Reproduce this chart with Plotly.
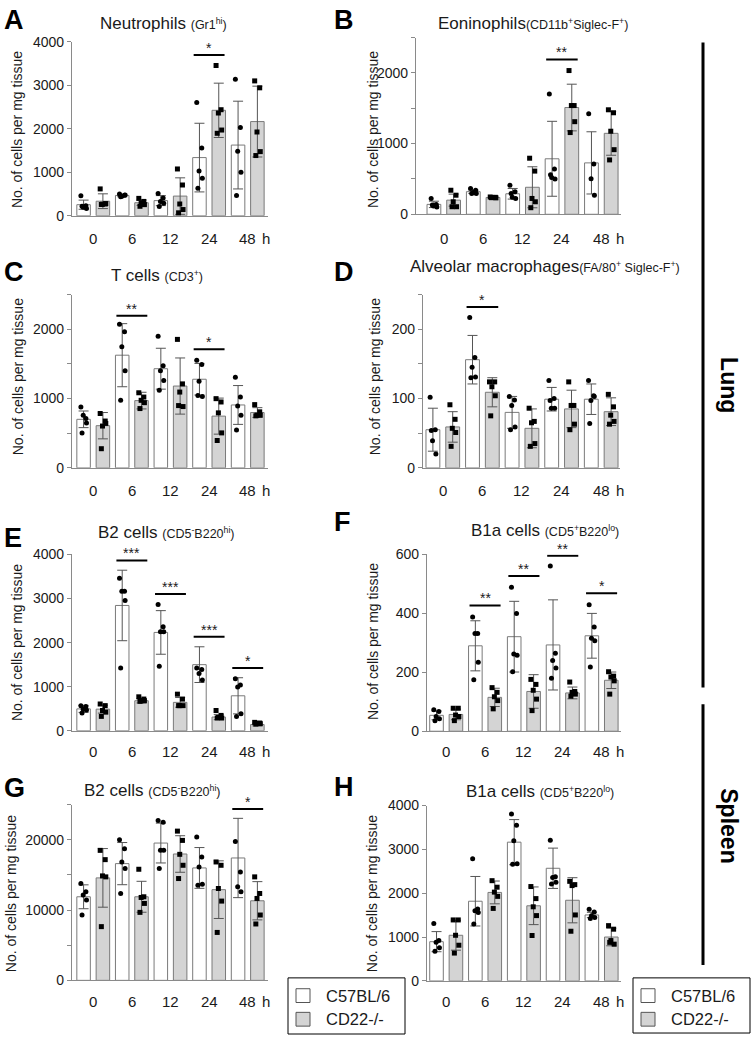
import plotly.graph_objects as go

W, H = 752, 1043
FONT = "Liberation Sans, Arial, sans-serif"
TIMES = ["0", "6", "12", "24", "48"]
UNIT = "h"
YTITLE = "No. of cells per mg tissue"
LEG_NAMES = ["C57BL/6", "CD22-/-"]

# ---------------- data ----------------
A_wt_mean = [255, 468, 349, 1339, 1627]
A_wt_sd = [105, 30, 115, 790, 1010]
A_ko_mean = [335, 300, 453, 2427, 2168]
A_ko_sd = [170, 60, 420, 625, 815]
A_wt_pts = [[460, 233, 196, 166, 218], [500, 470, 450, 480, 440], [512, 407, 331, 286, 211],
            [2606, 1559, 1032, 866, 633], [3141, 2034, 1484, 1002, 467]]
A_ko_pts = [[618, 271, 265, 280, 260], [400, 330, 294, 256, 218], [1077, 708, 271, 143, 68],
            [3458, 2441, 2365, 1973, 1898], [3104, 2945, 1928, 1476, 1386]]

B_wt_mean = [140, 320, 290, 785, 727]
B_wt_sd = [45, 25, 75, 530, 440]
B_ko_mean = [200, 238, 382, 1510, 1145]
B_ko_sd = [85, 15, 290, 330, 310]
B_wt_pts = [[224, 140, 117, 103, 130], [364, 340, 308, 294, 294], [410, 317, 242, 224, 294],
            [1700, 640, 520, 500, 560], [1422, 713, 503, 270]]
B_ko_pts = [[340, 270, 177, 107, 107], [245, 240, 238, 232, 235], [793, 611, 224, 177, 93],
            [2033, 1538, 1538, 1310, 1156], [1478, 1436, 1175, 914, 769]]

C_wt_mean = [700, 1625, 1430, 1278, 907]
C_wt_sd = [120, 455, 295, 228, 280]
C_ko_mean = [608, 970, 1180, 746, 798]
C_ko_sd = [190, 120, 405, 260, 70]
C_wt_pts = [[879, 713, 760, 646, 504], [2071, 1962, 1748, 1401, 974], [1900, 1473, 1401, 1259, 1121],
            [1553, 1492, 1249, 1030, 1045], [1306, 1021, 893, 760, 546]]
C_ko_pts = [[784, 675, 603, 641, 276], [1083, 1021, 974, 940, 855], [1853, 1211, 1093, 884, 898],
            [998, 950, 793, 504, 394], [912, 808, 760, 760, 750]]

D_wt_mean = [55, 156, 80, 99, 99]
D_wt_sd = [31, 35, 23, 17, 22]
D_ko_mean = [59, 109, 57, 85, 81]
D_ko_sd = [22, 21, 28, 27, 20]
D_wt_pts = [[102, 55, 39, 20, 54], [217, 159, 145, 131, 130], [103, 98, 90, 59, 55],
            [126, 100, 86, 86, 97], [126, 104, 97, 103, 64]]
D_ko_pts = [[91, 70, 57, 51, 31], [124, 124, 117, 104, 75], [86, 67, 65, 35, 31],
            [124, 90, 90, 63, 55], [106, 88, 76, 67, 63]]

E_wt_mean = [496, 2843, 2231, 1500, 793]
E_wt_sd = [80, 800, 495, 405, 410]
E_ko_mean = [490, 681, 644, 311, 141]
E_ko_sd = [90, 50, 110, 60, 30]
E_wt_pts = [[570, 550, 490, 470, 400], [3463, 3164, 3164, 2955, 1425], [2866, 2358, 2246, 2246, 1463],
            [1425, 1388, 1299, 1149], [1180, 1040, 990, 385, 326]]
E_ko_pts = [[607, 570, 459, 422, 326], [770, 719, 681, 681, 667], [830, 719, 570, 570, 570],
            [459, 348, 300, 290, 290], [190, 175, 165, 160, 150]]

F_wt_mean = [54, 290, 321, 293, 324]
F_wt_sd = [15, 85, 120, 153, 76]
F_ko_mean = [57, 115, 135, 130, 173]
F_ko_sd = [18, 31, 57, 20, 28]
F_wt_pts = [[73, 67, 50, 42, 36], [388, 332, 332, 234, 175], [489, 400, 262, 258, 202],
            [561, 265, 240, 215, 180], [429, 354, 316, 307, 218]]
F_ko_pts = [[78, 78, 55, 50, 36], [148, 132, 117, 104, 76], [176, 159, 139, 109, 70],
            [167, 135, 132, 126, 119], [202, 187, 184, 171, 126]]

G_wt_mean = [11887, 16604, 19528, 15990, 17406]
G_wt_sd = [1700, 3000, 2830, 2900, 5640]
G_ko_mean = [14575, 11887, 17972, 12900, 11320]
G_ko_sd = [4170, 2200, 2600, 4100, 2720]
G_wt_pts = [[13774, 12594, 12123, 11415, 9292], [20000, 18726, 16840, 15896, 12358],
            [22736, 22500, 18490, 18490, 15896], [20377, 17547, 16132, 13679, 13538],
            [19764, 15424, 13302, 12594]]
G_ko_pts = [[18490, 17170, 14858, 14717, 7641], [15802, 11887, 11792, 10943, 9670],
            [21226, 19906, 17925, 16368, 14481], [16840, 16368, 13066, 11274, 6817],
            [14717, 12358, 11651, 9292, 8019]]

H_wt_mean = [894, 1817, 3165, 2569, 1504]
H_wt_sd = [230, 565, 515, 460, 60]
H_ko_mean = [1040, 2018, 1713, 1839, 1000]
H_ko_sd = [340, 260, 430, 515, 200]
H_wt_pts = [[1309, 919, 878, 756, 675], [2785, 1640, 1600, 1560, 1300], [3805, 3552, 3195, 2673, 2658],
            [3210, 2375, 2360, 2249, 2211], [1634, 1569, 1488, 1447, 1423]]
H_ko_pts = [[1390, 1390, 1040, 813, 634], [2286, 2137, 2025, 1928, 1653], [2152, 1877, 1690, 1489, 1035],
            [2271, 2196, 2174, 1504, 1132], [1260, 1179, 919, 837, 878]]

# significance: (time-group index, bar height, label)
A_sig = [(3, 3700, "*")]
B_sig = [(3, 2190, "**")]
C_sig = [(1, 2195, "**"), (3, 1710, "*")]
D_sig = [(1, 232, "*")]
E_sig = [(1, 3866, "***"), (2, 3104, "***"), (3, 2134, "***"), (4, 1425, "*")]
F_sig = [(1, 427, "**"), (2, 527, "**"), (3, 596, "**"), (4, 468, "*")]
G_sig = [(4, 24387, "*")]
H_sig = []

SUB = "<span style='font-size:12.5px'>"
TITLES = {
    "A": "Neutrophils " + SUB + "(Gr1<sup>hi</sup>)</span>",
    "B": "Eoninophils" + SUB + "(CD11b<sup>+</sup>Siglec-F<sup>+</sup>)</span>",
    "C": "T cells " + SUB + "(CD3<sup>+</sup>)</span>",
    "D": "Alveolar macrophages" + SUB + "(FA/80<sup>+</sup> Siglec-F<sup>+</sup>)</span>",
    "E": "B2 cells " + SUB + "(CD5<sup>-</sup>B220<sup>hi</sup>)</span>",
    "F": "B1a cells " + SUB + "(CD5<sup>+</sup>B220<sup>lo</sup>)</span>",
    "G": "B2 cells " + SUB + "(CD5<sup>-</sup>B220<sup>hi</sup>)</span>",
    "H": "B1a cells " + SUB + "(CD5<sup>+</sup>B220<sup>lo</sup>)</span>",
}

# ---------------- layout geometry (pixels) ----------------
GEOM = {
    "A": dict(x0=72, x1=268, yb=211, yt=34.5, yr=[0, 4000], xr=[-0.6, 9.55], tick=1000, lab=1000,
              title=(163, 16), letter=12, ytc=(17, 124), xl=234),
    "B": dict(x0=416, x1=621, yb=209.5, yt=30, yr=[0, 2500], xr=[-0.91, 9.5], tick=500, lab=1000,
              title=(533, 16), letter=12, ytc=(373, 124), xl=234),
    "C": dict(x0=72, x1=268, yb=467, yt=291, yr=[0, 2500], xr=[-0.6, 9.55], tick=500, lab=1000,
              title=(157, 272), letter=268, ytc=(18, 375), xl=490),
    "D": dict(x0=423, x1=620, yb=467, yt=291, yr=[0, 250], xr=[-0.5, 9.45], tick=50, lab=100,
              title=(545, 263), letter=268, ytc=(375, 375), xl=490),
    "E": dict(x0=72, x1=268, yb=734, yt=555, yr=[0, 4000], xr=[-0.6, 9.55], tick=1000, lab=1000,
              title=(166, 533), letter=538, ytc=(17, 645), xl=755),
    "F": dict(x0=427, x1=621, yb=734.5, yt=555, yr=[0, 600], xr=[-0.49, 9.5], tick=200, lab=200,
              title=(545, 531), letter=522, ytc=(373, 644), xl=755),
    "G": dict(x0=72, x1=268, yb=987.5, yt=809, yr=[0, 25000], xr=[-0.6, 9.55], tick=5000, lab=10000,
              title=(152, 795), letter=792, ytc=(11, 900), xl=1009),
    "H": dict(x0=427, x1=621, yb=988, yt=810, yr=[0, 4000], xr=[-0.49, 9.5], tick=1000, lab=1000,
              title=(540, 796), letter=791, ytc=(372, 900), xl=1009),
}

DATA = {
    "A": (A_wt_mean, A_wt_sd, A_ko_mean, A_ko_sd, A_wt_pts, A_ko_pts, A_sig),
    "B": (B_wt_mean, B_wt_sd, B_ko_mean, B_ko_sd, B_wt_pts, B_ko_pts, B_sig),
    "C": (C_wt_mean, C_wt_sd, C_ko_mean, C_ko_sd, C_wt_pts, C_ko_pts, C_sig),
    "D": (D_wt_mean, D_wt_sd, D_ko_mean, D_ko_sd, D_wt_pts, D_ko_pts, D_sig),
    "E": (E_wt_mean, E_wt_sd, E_ko_mean, E_ko_sd, E_wt_pts, E_ko_pts, E_sig),
    "F": (F_wt_mean, F_wt_sd, F_ko_mean, F_ko_sd, F_wt_pts, F_ko_pts, F_sig),
    "G": (G_wt_mean, G_wt_sd, G_ko_mean, G_ko_sd, G_wt_pts, G_ko_pts, G_sig),
    "H": (H_wt_mean, H_wt_sd, H_ko_mean, H_ko_sd, H_wt_pts, H_ko_pts, H_sig),
}

WT_FILL = "white"
KO_FILL = "#d4d4d4"
BAR_LINE = "#7a7a7a"
ERR_COL = "#555555"
AX_COL = "#8a8a8a"
TXT = "#1a1a1a"
JIT = [-0.14, 0.12, -0.02, 0.15, -0.08]


def px(x):
    return x / W


def py(y):
    return 1 - y / H


fig = go.Figure()
annotations = []
shapes = []
layout_axes = {}

for i, key in enumerate("ABCDEFGH"):
    g = GEOM[key]
    wt_m, wt_s, ko_m, ko_s, wt_p, ko_p, sig = DATA[key]
    n = i + 1
    xa = "x" if n == 1 else f"x{n}"
    ya = "y" if n == 1 else f"y{n}"
    xname = "xaxis" if n == 1 else f"xaxis{n}"
    yname = "yaxis" if n == 1 else f"yaxis{n}"

    idx = list(range(len(TIMES)))
    xs_wt = [2 * k for k in idx]
    xs_ko = [2 * k + 1 for k in idx]

    fig.add_trace(go.Bar(x=xs_wt, y=wt_m, width=0.7, xaxis=xa, yaxis=ya,
                         marker=dict(color=WT_FILL, line=dict(color=BAR_LINE, width=1)),
                         error_y=dict(type="data", array=wt_s, color=ERR_COL, thickness=1, width=5),
                         showlegend=False, hoverinfo="skip"))
    fig.add_trace(go.Bar(x=xs_ko, y=ko_m, width=0.7, xaxis=xa, yaxis=ya,
                         marker=dict(color=KO_FILL, line=dict(color=BAR_LINE, width=1)),
                         error_y=dict(type="data", array=ko_s, color=ERR_COL, thickness=1, width=5),
                         showlegend=False, hoverinfo="skip"))

    dx, dy = [], []
    for k, pts in enumerate(wt_p):
        for j, v in enumerate(pts):
            dx.append(xs_wt[k] + JIT[j % len(JIT)])
            dy.append(v)
    fig.add_trace(go.Scatter(x=dx, y=dy, mode="markers", xaxis=xa, yaxis=ya, cliponaxis=False,
                             marker=dict(symbol="circle", size=5, color="black"),
                             showlegend=False, hoverinfo="skip"))
    dx, dy = [], []
    for k, pts in enumerate(ko_p):
        for j, v in enumerate(pts):
            dx.append(xs_ko[k] + JIT[j % len(JIT)])
            dy.append(v)
    fig.add_trace(go.Scatter(x=dx, y=dy, mode="markers", xaxis=xa, yaxis=ya, cliponaxis=False,
                             marker=dict(symbol="square", size=5, color="black"),
                             showlegend=False, hoverinfo="skip"))

    # axes
    tv, tt = [], []
    v = g["yr"][0]
    while v <= g["yr"][1] + 1e-9:
        tv.append(v)
        tt.append(str(int(v)) if abs(v / g["lab"] - round(v / g["lab"])) < 1e-9 else " ")
        v += g["tick"]
    layout_axes[xname] = dict(domain=[px(g["x0"]), px(g["x1"])], range=g["xr"], anchor=ya,
                              showline=True, linecolor=AX_COL, linewidth=1.2, ticks="",
                              showticklabels=False, showgrid=False, zeroline=False, fixedrange=True)
    layout_axes[yname] = dict(domain=[py(g["yb"]), py(g["yt"])], range=g["yr"], anchor=xa,
                              showline=True, linecolor=AX_COL, linewidth=1.2, ticks="outside",
                              ticklen=4, tickcolor=AX_COL, tickvals=tv, ticktext=tt,
                              tickfont=dict(size=14, color=TXT, family=FONT),
                              showgrid=False, zeroline=False, fixedrange=True)

    # x labels
    for k, t in enumerate(TIMES):
        annotations.append(dict(x=2 * k + 0.5, y=py(g["xl"]), xref=xa, yref="paper", text=t,
                                showarrow=False, xanchor="center", yanchor="middle",
                                font=dict(size=15, color=TXT, family=FONT)))
    annotations.append(dict(x=9.45, y=py(g["xl"]), xref=xa, yref="paper", text=UNIT,
                            showarrow=False, xanchor="center", yanchor="middle",
                            font=dict(size=15, color=TXT, family=FONT)))
    # significance
    for (k, yv, lab) in sig:
        shapes.append(dict(type="line", xref=xa, yref=ya, x0=2 * k - 0.3, x1=2 * k + 1.3,
                           y0=yv, y1=yv, line=dict(color="black", width=2)))
        annotations.append(dict(x=2 * k + 0.5, y=yv, xref=xa, yref=ya, text=lab, showarrow=False,
                                xanchor="center", yanchor="bottom", yshift=-3,
                                font=dict(size=14, color=TXT, family=FONT)))
    # title / letter / y title
    tx, tyy = g["title"]
    annotations.append(dict(x=px(tx), y=py(tyy), xref="paper", yref="paper", text=TITLES[key],
                            showarrow=False, xanchor="center", yanchor="middle",
                            font=dict(size=17, color=TXT, family=FONT)))
    lx = 2 if g["x0"] < 300 else 332
    annotations.append(dict(x=px(lx), y=py(g["letter"]), xref="paper", yref="paper",
                            text="<b>" + key + "</b>", showarrow=False, xanchor="left",
                            yanchor="middle", font=dict(size=27, color="black", family=FONT)))
    yx, yy = g["ytc"]
    annotations.append(dict(x=px(yx), y=py(yy), xref="paper", yref="paper", text=YTITLE,
                            textangle=-90, showarrow=False, xanchor="center", yanchor="middle",
                            font=dict(size=14, color=TXT, family=FONT)))

# organ labels on the right
shapes.append(dict(type="line", xref="paper", yref="paper", x0=px(703), x1=px(703),
                   y0=py(35), y1=py(690), line=dict(color="black", width=3)))
shapes.append(dict(type="line", xref="paper", yref="paper", x0=px(703), x1=px(703),
                   y0=py(707), y1=py(972), line=dict(color="black", width=3)))
annotations.append(dict(x=px(729), y=py(383), xref="paper", yref="paper", text="<b>Lung</b>",
                        textangle=90, showarrow=False, xanchor="center", yanchor="middle",
                        font=dict(size=23, color="black", family=FONT)))
annotations.append(dict(x=px(729), y=py(830), xref="paper", yref="paper", text="<b>Spleen</b>",
                        textangle=90, showarrow=False, xanchor="center", yanchor="middle",
                        font=dict(size=23, color="black", family=FONT)))

# legends (two boxes)
for (bx0, bx1, by0, by1) in [(288, 405, 985, 1042), (633, 750, 985, 1041)]:
    shapes.append(dict(type="rect", xref="paper", yref="paper", x0=px(bx0), x1=px(bx1),
                       y0=py(by1), y1=py(by0), line=dict(color="black", width=1), fillcolor="white"))
    for r, (name, fill) in enumerate(zip(LEG_NAMES, [WT_FILL, KO_FILL])):
        cy = 1003 + 24 * r
        shapes.append(dict(type="rect", xref="paper", yref="paper", x0=px(bx0 + 8), x1=px(bx0 + 22),
                           y0=py(cy + 7), y1=py(cy - 7), line=dict(color="#555555", width=1),
                           fillcolor=fill))
        annotations.append(dict(x=px(bx0 + 36), y=py(cy), xref="paper", yref="paper", text=name,
                                showarrow=False, xanchor="left", yanchor="middle",
                                font=dict(size=16.5, color=TXT, family=FONT)))

fig.update_layout(width=W, height=H, margin=dict(l=0, r=0, t=0, b=0),
                  paper_bgcolor="white", plot_bgcolor="white", barmode="overlay",
                  font=dict(family=FONT, color=TXT), annotations=annotations, shapes=shapes,
                  **layout_axes)

fig.write_html("out.html", config={"displayModeBar": False},
               post_script="document.body.style.margin='0px';document.body.style.overflow='hidden';")
